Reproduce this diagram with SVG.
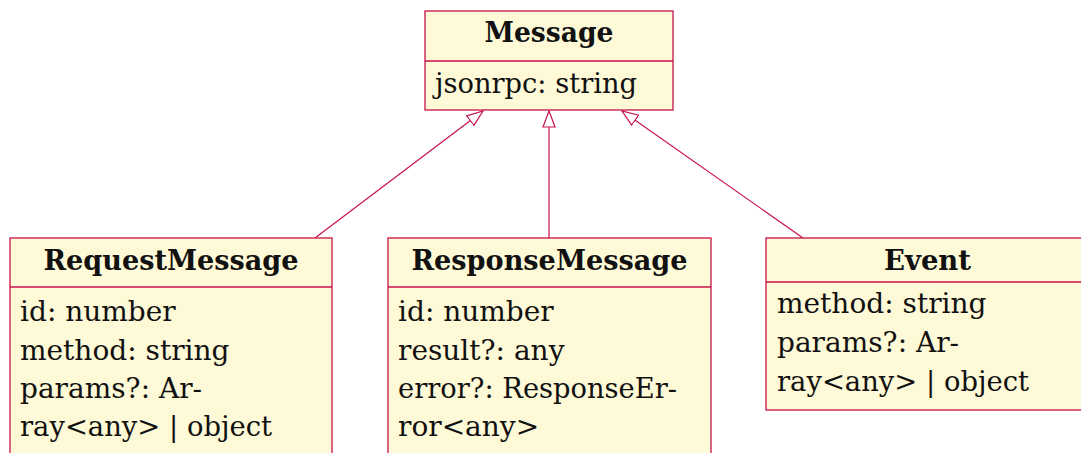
<svg xmlns="http://www.w3.org/2000/svg" width="1081" height="453" viewBox="0 0 1081 453">
<style>
.box{fill:#fef9d6;stroke:#c8124a;stroke-width:1.3}
.div{stroke:#c8124a;stroke-width:1.3}
.t{font-family:"DejaVu Serif","Liberation Serif",serif;font-weight:bold;font-size:27px;fill:#111;text-anchor:middle}
.b{font-family:"DejaVu Serif","Liberation Serif",serif;font-size:28px;fill:#111}
.edge{stroke:#c8124a;stroke-width:1.2;fill:none;marker-end:url(#tri)}
</style>
<defs>
<marker id="tri" markerUnits="userSpaceOnUse" markerWidth="18" markerHeight="14" refX="16.5" refY="6.5" orient="auto" viewBox="0 0 18 13">
<path d="M0.5,0.5 L16.5,6.5 L0.5,12.5 z" fill="#fff" stroke="#c8124a" stroke-width="1.2"/>
</marker>
</defs>
<g id="connectors">
<line class="edge" x1="315" y1="238" x2="483" y2="111"/>
<line class="edge" x1="549" y1="238" x2="549" y2="111"/>
<line class="edge" x1="803" y1="238" x2="622" y2="111"/>
</g>
<g id="Message">
<rect class="box" x="425" y="11" width="248" height="99"/>
<line class="div" x1="425" y1="61" x2="673" y2="61"/>
<text class="t" x="549" y="42" textLength="129" lengthAdjust="spacingAndGlyphs">Message</text>
<text class="b" x="435" y="93" textLength="202" lengthAdjust="spacingAndGlyphs">jsonrpc: string</text>
</g>
<g id="RequestMessage">
<rect class="box" x="10" y="238" width="322" height="230"/>
<line class="div" x1="10" y1="287" x2="332" y2="287"/>
<text class="t" x="171" y="270" textLength="255" lengthAdjust="spacingAndGlyphs">RequestMessage</text>
<text class="b" x="20" y="321">id: number</text>
<text class="b" x="20" y="360">method: string</text>
<text class="b" x="20" y="398">params?: Ar-</text>
<text class="b" x="20" y="436" textLength="252" lengthAdjust="spacingAndGlyphs">ray&lt;any&gt; | object</text>
</g>
<g id="ResponseMessage">
<rect class="box" x="388" y="238" width="323" height="230"/>
<line class="div" x1="388" y1="287" x2="711" y2="287"/>
<text class="t" x="549.5" y="270" textLength="276" lengthAdjust="spacingAndGlyphs">ResponseMessage</text>
<text class="b" x="398" y="321">id: number</text>
<text class="b" x="398" y="360">result?: any</text>
<text class="b" x="398" y="398" textLength="279" lengthAdjust="spacingAndGlyphs">error?: ResponseEr-</text>
<text class="b" x="398" y="436">ror&lt;any&gt;</text>
</g>
<g id="Event">
<rect class="box" x="766" y="238" width="323" height="172"/>
<line class="div" x1="766" y1="282" x2="1089" y2="282"/>
<text class="t" x="927.5" y="270" textLength="87" lengthAdjust="spacingAndGlyphs">Event</text>
<text class="b" x="777" y="313">method: string</text>
<text class="b" x="777" y="352">params?: Ar-</text>
<text class="b" x="777" y="391" textLength="252" lengthAdjust="spacingAndGlyphs">ray&lt;any&gt; | object</text>
</g>
</svg>
